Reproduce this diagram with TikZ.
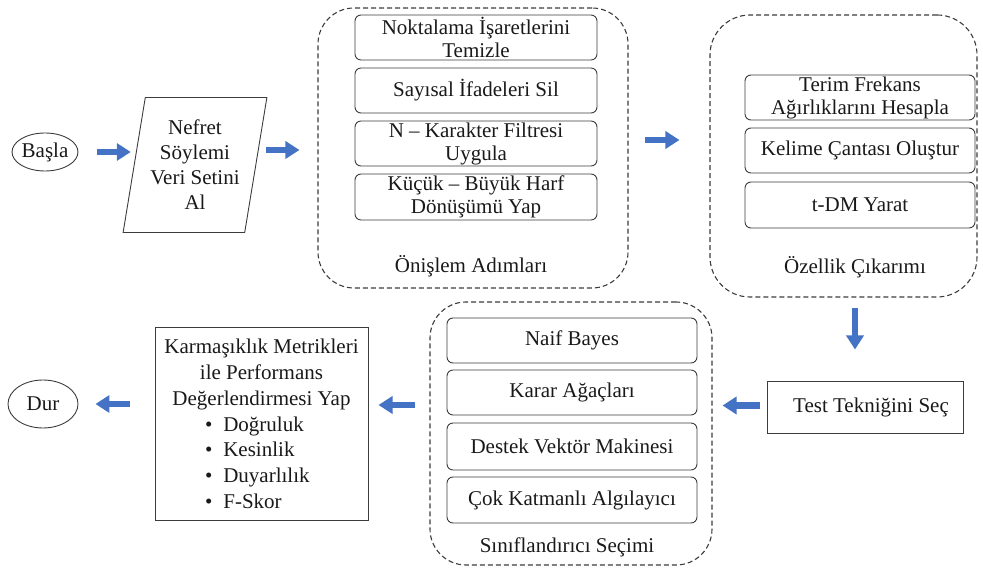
\documentclass[tikz,border=0pt]{standalone}
\usepackage{fontspec}
\setmainfont{Liberation Serif}
\usetikzlibrary{arrows.meta,shapes.geometric,calc}
\definecolor{flowblue}{RGB}{68,114,196}
\definecolor{edge}{RGB}{60,60,60}
\definecolor{ink}{RGB}{25,25,25}
\begin{document}
\begin{tikzpicture}[x=1pt,y=-1pt,
  every node/.style={font=\fontsize{21}{25}\selectfont, text=ink},
  grp/.style={draw=edge, line width=1.1pt, dash pattern=on 5pt off 3pt, rounded corners=36pt, minimum width=#1},
  ibox/.style={draw=edge, line width=0.9pt, rounded corners=6pt, inner sep=0pt},
  itext/.style={align=center, inner sep=0pt, font=\fontsize{21}{23}\selectfont},
  term/.style={draw=edge, line width=0.9pt, ellipse, inner sep=0pt},
  plain/.style={draw=edge, line width=1pt, rectangle, inner sep=0pt},
  barrow/.style={draw=flowblue, line width=6.5pt, -{Triangle[length=14pt,width=17pt]}},
]
\useasboundingbox (0,0) rectangle (983,569);

% terminals
\node[term, minimum width=65pt, minimum height=38pt] (start) at (45,152) {Başla};
\node[term, minimum width=70pt, minimum height=48pt] (stop) at (43,404) {Dur};

% data input parallelogram
\node[trapezium, trapezium left angle=77.5, trapezium right angle=102.5,
      trapezium stretches=true, minimum width=144pt, minimum height=135pt,
      draw=edge, line width=0.9pt, inner sep=0pt, align=center] (data) at (195,165)
      {Nefret\\Söylemi\\Veri Setini\\Al};

% preprocessing group
\node[grp=310pt, minimum height=280pt] (pre) at (473,148) {};
\node[ibox, minimum width=242pt, minimum height=45pt] (p1) at (476,37.5) {};
\node[itext] (p1t) at (p1) {Noktalama İşaretlerini\\Temizle};
\node[ibox, minimum width=242pt, minimum height=45pt] (p2) at (476,90.5) {};
\node[itext] (p2t) at (p2) {Sayısal İfadeleri Sil};
\node[ibox, minimum width=242pt, minimum height=45pt] (p3) at (476,143.5) {};
\node[itext] (p3t) at (p3) {N – Karakter Filtresi\\Uygula};
\node[ibox, minimum width=242pt, minimum height=46pt] (p4) at (476,197) {};
\node[itext] (p4t) at (p4) {Küçük – Büyük Harf\\Dönüşümü Yap};
\node (prelbl) at (471,266) {Önişlem Adımları};

% feature extraction group
\node[grp=267pt, minimum height=282pt, rounded corners=40pt] (feat) at (843.5,156) {};
\node[ibox, minimum width=230pt, minimum height=45pt] (f1) at (860,97.5) {};
\node[itext] (f1t) at (f1) {Terim Frekans\\Ağırlıklarını Hesapla};
\node[ibox, minimum width=230pt, minimum height=45pt] (f2) at (860,150.5) {};
\node[itext] (f2t) at (f2) {Kelime Çantası Oluştur};
\node[ibox, minimum width=230pt, minimum height=46pt] (f3) at (860,205) {};
\node[itext] (f3t) at (f3) {t-DM Yarat};
\node (featlbl) at (855,267) {Özellik Çıkarımı};

% test technique
\node[plain, minimum width=196pt, minimum height=51pt] (test) at (865,407.5) {\hspace*{12pt}Test Tekniğini Seç};

% classifier group
\node[grp=282pt, minimum height=263pt] (clf) at (571,433.5) {};
\node[ibox, minimum width=250pt, minimum height=45pt] (c1) at (572,340.5) {};
\node[itext] (c1t) at (c1) {Naif Bayes};
\node[ibox, minimum width=250pt, minimum height=45pt] (c2) at (572,392.5) {};
\node[itext] (c2t) at (c2) {Karar Ağaçları};
\node[ibox, minimum width=250pt, minimum height=47pt] (c3) at (572,446.5) {};
\node[itext] (c3t) at (c3) {Destek Vektör Makinesi};
\node[ibox, minimum width=250pt, minimum height=46pt] (c4) at (572,500) {};
\node[itext] (c4t) at (c4) {Çok Katmanlı Algılayıcı};
\node (clflbl) at (567,547) {Sınıflandırıcı Seçimi};

% evaluation
\node[plain, minimum width=213pt, minimum height=192pt, align=center,
      font=\fontsize{21}{25.8}\selectfont] (eval) at (261.5,424)
  {Karmaşıklık Metrikleri\\ile Performans\\Değerlendirmesi Yap\\
   \makebox[113pt][l]{\textbullet\hspace{11pt}Doğruluk}\\
   \makebox[113pt][l]{\textbullet\hspace{11pt}Kesinlik}\\
   \makebox[113pt][l]{\textbullet\hspace{11pt}Duyarlılık}\\
   \makebox[113pt][l]{\textbullet\hspace{11pt}F-Skor}};

% flow arrows
\draw[barrow, shorten <=19pt, shorten >=3pt] (start.east) -- (start.east -| data.west);
\draw[barrow, shorten <=10pt, shorten >=18pt] ([yshift=15pt]data.east) -- ([yshift=15pt]data.east -| pre.west);
\draw[barrow, shorten <=16pt, shorten >=30pt] ([yshift=8pt]pre.east) -- ([yshift=8pt]pre.east -| feat.west);
\draw[barrow, shorten <=10pt, shorten >=32pt] ([xshift=-10pt]test.north |- feat.south) -- ([xshift=-10pt]test.north);
\draw[barrow, shorten <=7pt, shorten >=10pt] ([yshift=2pt]test.west) -- ([yshift=2pt]test.west -| clf.east);
\draw[barrow, shorten <=14pt, shorten >=10pt] (clf.west |- eval.east) ++(0,-19) coordinate (clfout) -- (clfout -| eval.east);
\draw[barrow, shorten <=25pt, shorten >=17pt] (eval.west |- stop.east) -- (stop.east);
\end{tikzpicture}
\end{document}
